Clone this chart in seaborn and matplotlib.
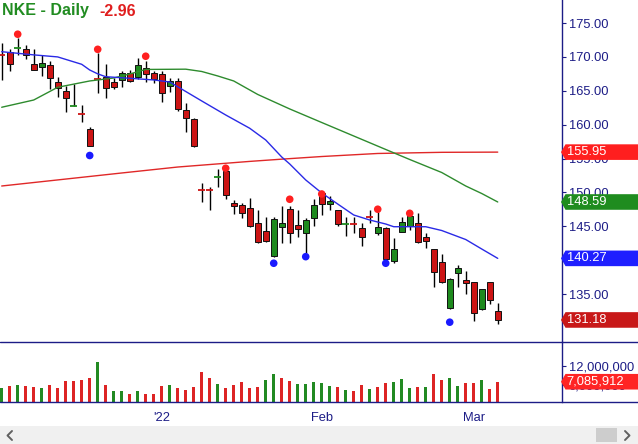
import numpy as np
import pandas as pd
import matplotlib
matplotlib.use("Agg")
import matplotlib.pyplot as plt
import seaborn as sns
from matplotlib.patches import Polygon, Rectangle
from matplotlib.lines import Line2D

# ---------------- data ----------------
title_text = "NKE - Daily"
change_text = "-2.96"

first_date = "2021-12-03"
last_axis_date = "2022-03-15"
market_holidays = ["2021-12-24", "2022-01-17", "2022-02-21"]

opens = [170.32, 170.77, 171.25, 171.12, 168.92, 168.46, 168.79, 166.30, 165.01, 162.72,
         161.58, 159.34, 166.87, 167.08, 166.27, 166.64, 167.68, 167.04, 168.33, 167.59,
         167.44, 165.75, 166.45, 162.10, 160.85, 150.48, 150.48, 152.20, 153.15, 148.49,
         148.15, 147.66, 145.45, 144.31, 140.67, 144.94, 147.51, 145.20, 144.06, 146.18,
         149.91, 148.25, 147.40, 145.31, 145.37, 144.71, 146.40, 143.97, 144.71, 139.92,
         144.12, 145.05, 145.45, 143.38, 141.60, 139.69, 132.91, 138.06, 137.07, 136.74,
         132.84, 136.74, 132.50]
highs = [172.00, 171.12, 172.85, 171.75, 171.12, 170.33, 169.41, 167.08, 165.71, 165.99,
         162.83, 159.71, 170.58, 168.90, 166.82, 167.92, 168.07, 169.85, 169.41, 167.92,
         167.92, 166.85, 166.85, 163.25, 161.04, 151.34, 150.73, 153.40, 153.52, 148.89,
         148.49, 149.14, 147.40, 146.42, 146.42, 147.99, 147.99, 147.40, 146.18, 148.99,
         150.11, 149.46, 147.40, 146.42, 146.42, 145.53, 147.40, 147.11, 144.95, 143.23,
         146.42, 146.52, 146.92, 143.96, 141.61, 140.87, 137.32, 139.29, 138.40, 136.76,
         135.71, 136.76, 133.64]
lows = [166.59, 167.99, 170.29, 169.73, 168.06, 167.23, 165.24, 164.14, 161.80, 162.70,
        160.45, 156.91, 164.64, 164.01, 165.22, 165.52, 166.35, 166.77, 166.35, 166.10,
        163.28, 164.86, 162.03, 158.99, 156.76, 148.63, 147.46, 150.76, 149.00, 146.78,
        146.29, 144.95, 142.50, 142.73, 140.52, 142.50, 142.58, 143.46, 141.02, 145.05,
        146.67, 147.40, 145.05, 143.61, 143.97, 142.15, 145.53, 143.72, 140.03, 139.63,
        144.12, 144.45, 142.58, 141.75, 136.09, 136.60, 132.75, 136.09, 135.01, 131.07,
        132.65, 133.50, 130.60]
closes = [170.26, 168.92, 171.30, 170.29, 168.06, 169.12, 166.82, 165.37, 163.87, 162.78,
          161.52, 156.91, 166.81, 165.37, 165.59, 167.59, 166.46, 168.81, 167.47, 166.71,
          164.64, 166.45, 162.28, 160.95, 156.91, 150.43, 150.43, 152.26, 149.56, 148.05,
          146.93, 145.09, 142.64, 142.88, 146.03, 145.45, 143.97, 144.56, 145.93, 148.14,
          148.25, 148.73, 145.34, 145.37, 145.31, 143.47, 146.35, 144.86, 140.13, 141.60,
          145.59, 146.51, 142.73, 142.88, 138.21, 136.75, 137.18, 138.80, 136.60, 132.17,
          135.70, 134.14, 131.18]
volumes = [5220000, 5840000, 6160000, 5840000, 5530000, 5220000, 6160000, 5220000, 7410000, 7410000,
           7720000, 8340000, 13250000, 6160000, 4280000, 4280000, 3340000, 4280000, 3340000, 3340000,
           5840000, 6160000, 5220000, 4590000, 5530000, 10220000, 8340000, 6470000, 5220000, 6160000,
           7090000, 5220000, 5530000, 7720000, 9590000, 8340000, 7410000, 6470000, 6470000, 7090000,
           6780000, 5840000, 5530000, 4590000, 4280000, 6160000, 4910000, 5530000, 6780000, 7090000,
           8030000, 5220000, 5530000, 5530000, 9590000, 7720000, 8340000, 5840000, 6780000, 6780000,
           7720000, 4910000, 7085912]
volume_up = [1, 0, 1, 0, 0, 1, 0, 0, 0, 0, 0, 0, 1, 0, 1, 1, 0, 1, 0, 0,
             0, 1, 0, 0, 0, 0, 0, 1, 0, 0, 0, 0, 0, 1, 1, 0, 0, 1, 1, 1,
             1, 1, 0, 1, 0, 0, 1, 0, 0, 1, 1, 1, 0, 1, 0, 0, 1, 1, 0, 0,
             1, 0, 0]

ma_short_idx = [0, 4, 7, 10, 11, 12, 13, 16, 19, 21, 22, 25, 28, 31, 33, 35, 36, 38, 40, 42,
                44, 46, 48, 49, 53, 55, 58, 60, 62]
ma_short_val = [170.77, 170.30, 170.00, 168.91, 168.07, 167.50, 167.08, 166.85, 166.60, 166.30,
                165.60, 163.50, 161.43, 159.47, 157.74, 155.23, 154.20, 151.84, 149.92, 148.29,
                146.67, 145.93, 145.34, 144.94, 144.94, 144.38, 143.05, 141.65, 140.27]
ma_mid_idx = [0, 4, 7, 11, 14, 16, 18, 23, 25, 27, 29, 32, 36, 40, 48, 51, 55, 58, 60, 62]
ma_mid_val = [162.57, 163.64, 165.52, 166.45, 166.89, 167.48, 168.15, 168.19, 167.85, 167.19,
              166.45, 164.46, 162.32, 160.32, 156.34, 154.86, 152.94, 150.95, 149.84, 148.59]
ma_long_idx = [0, 15, 22, 31, 35, 40, 47, 55, 62]
ma_long_val = [150.95, 152.87, 153.75, 154.58, 154.91, 155.30, 155.75, 155.92, 155.95]

swing_high_idx = [2, 12, 18, 28, 36, 40, 47, 51]
swing_high_val = [173.35, 171.12, 170.10, 153.57, 148.99, 149.77, 147.52, 146.92]
swing_low_idx = [11, 34, 38, 48, 56]
swing_low_val = [155.45, 139.55, 140.52, 139.55, 130.85]

price_ticks = [135, 140, 145, 150, 155, 160, 165, 170, 175]
volume_ticks = [6000000, 12000000]

# ---------------- style ----------------
sns.set_theme(style="white")
plt.rcParams['font.family'] = ['Liberation Sans', 'DejaVu Sans']

navy = "#1c1c86"
up_col = "#1e8a1e"
dn_col = "#cc1414"
vol_up_col = "#228a22"
vol_dn_col = "#dd2424"
blue_line = "#2a2ae6"
green_line = "#2e8b2e"
red_line = "#e02828"

W, H = 638, 444
fig = plt.figure(figsize=(W / 100, H / 100), dpi=100)
fig.patch.set_facecolor("white")


def fx(x):
    return x / W


def fy(y):
    return 1 - y / H


axis_right = 562.3
price_bot = 341.5
vol_bot = 401.5
ax = fig.add_axes([0, fy(price_bot), fx(axis_right), price_bot / H])
axv = fig.add_axes([0, fy(vol_bot), fx(axis_right), (vol_bot - price_bot) / H])

o = np.array(opens)
h = np.array(highs)
l = np.array(lows)
c = np.array(closes)
n = len(o)
xi = np.arange(n)

# ---------------- candles ----------------
cols = np.where(c >= o, up_col, dn_col)
ax.vlines(xi, l, h, color="black", lw=1.0, zorder=2)
lo = np.minimum(o, c)
bh = np.abs(c - o)
doji = bh < 0.1
ax.bar(xi[~doji], bh[~doji], bottom=lo[~doji], width=0.72, color=cols[~doji],
       edgecolor="#111111", linewidth=0.7, zorder=3)
ax.hlines(c[doji], xi[doji] - 0.42, xi[doji] + 0.42, colors=cols[doji], lw=1.3, zorder=3)

# moving averages
sns.lineplot(x=ma_long_idx, y=ma_long_val, ax=ax, color=red_line, linewidth=1.0,
             estimator=None, sort=False, zorder=4)
sns.lineplot(x=ma_mid_idx, y=ma_mid_val, ax=ax, color=green_line, linewidth=1.0,
             estimator=None, sort=False, zorder=4)
sns.lineplot(x=ma_short_idx, y=ma_short_val, ax=ax, color=blue_line, linewidth=1.0,
             estimator=None, sort=False, zorder=4)

# swing markers
sns.scatterplot(x=swing_high_idx, y=swing_high_val, ax=ax, color="#ff2020", s=30,
                edgecolor="none", zorder=5, legend=False)
sns.scatterplot(x=swing_low_idx, y=swing_low_val, ax=ax, color="#1a1aff", s=30,
                edgecolor="none", zorder=5, legend=False)

# ---------------- volume ----------------
vcols = [vol_up_col if u else vol_dn_col for u in volume_up]
axv.bar(xi, volumes, width=0.32, color=vcols, linewidth=0, zorder=2)

# ---------------- axes ----------------
xlim = (-0.2125, 70.07)
for a in (ax, axv):
    a.set_xlim(*xlim)
    a.set_facecolor("white")
    a.set_xlabel("")
    a.set_ylabel("")
    for s in ("top", "left", "bottom"):
        a.spines[s].set_visible(False)
    a.spines["right"].set_color(navy)
    a.spines["right"].set_linewidth(1.0)
    a.grid(False)

ax.set_ylim(128.0, 178.4)
axv.set_ylim(0.906e6, 19.66e6)

ax.yaxis.tick_right()
ax.set_yticks(price_ticks)
ax.set_yticklabels([f"{t:.2f}" for t in price_ticks])
ax.tick_params(axis="y", direction="out", length=3, width=0.8, colors=navy,
               labelsize=9.3, pad=1.5)
ax.set_xticks([])

axv.yaxis.tick_right()
axv.set_yticks(volume_ticks)
axv.set_yticklabels([f"{t:,.0f}" for t in volume_ticks])
axv.tick_params(axis="y", direction="out", length=3, width=0.8, colors=navy,
                labelsize=9.3, pad=1.5)

dates = pd.bdate_range(first_date, last_axis_date, freq="C", holidays=market_holidays)
weeks = dates.to_period("W")
new_week = np.r_[False, np.asarray(weeks[1:] != weeks[:-1])]
new_month = np.r_[False, np.asarray(dates.month[1:] != dates.month[:-1])]
pos = np.arange(len(dates))
major_pos = pos[new_month]
major_lab = [("'" + d.strftime("%y")) if d.month == 1 else d.strftime("%b") for d in dates[new_month]]
minor_pos = pos[new_week & ~new_month]
axv.set_xticks(major_pos)
axv.set_xticklabels(major_lab)
axv.set_xticks(minor_pos, minor=True)
axv.tick_params(axis="x", which="major", direction="out", length=5.2, width=0.8,
                color=navy, labelcolor=navy, labelsize=9.3, pad=2)
axv.tick_params(axis="x", which="minor", direction="out", length=2.9, width=0.8, color=navy)

# full-width separators
for yy in (price_bot, vol_bot):
    fig.add_artist(Line2D([0, 1], [fy(yy), fy(yy)], transform=fig.transFigure,
                          color=navy, lw=1.0, zorder=6))

# ---------------- value tags ----------------
def value_tag(axis, value, text, color):
    disp_y = axis.transData.transform((0, value))[1]
    yc = H - disp_y
    hh = 7.8
    pts = [(561.0, yc), (565.5, yc - hh), (W, yc - hh), (W, yc + hh), (565.5, yc + hh)]
    fig.add_artist(Polygon([(fx(px), fy(py)) for px, py in pts], closed=True,
                           transform=fig.transFigure, facecolor=color, edgecolor="none",
                           zorder=10))
    fig.text(fx(566.5), fy(yc), text, color="white", fontsize=9.3, va="center",
             ha="left", zorder=11)


value_tag(ax, ma_long_val[-1], f"{ma_long_val[-1]:.2f}", "#ff1f1f")
value_tag(ax, ma_mid_val[-1], f"{ma_mid_val[-1]:.2f}", "#1f8c1f")
value_tag(ax, ma_short_val[-1], f"{ma_short_val[-1]:.2f}", "#1f1fff")
value_tag(ax, closes[-1], f"{closes[-1]:.2f}", "#c81818")
value_tag(axv, volumes[-1], f"{volumes[-1]:,.0f}", "#ff2424")

# ---------------- title ----------------
fig.text(fx(2), fy(11), title_text, color="#218c21", fontsize=11.5, fontweight="bold",
         va="center", ha="left")
fig.text(fx(99), fy(11), change_text, color="#e01e1e", fontsize=11.5, fontweight="bold",
         va="center", ha="left")

# ---------------- scrollbar ----------------
fig.add_artist(Rectangle((0, fy(H)), 1, (H - 426) / H, transform=fig.transFigure,
                         facecolor="#f0f0f0", edgecolor="none", zorder=1))
fig.add_artist(Rectangle((fx(596), fy(442)), fx(617) - fx(596), (442 - 428) / H,
                         transform=fig.transFigure, facecolor="#cdcdcd", edgecolor="none",
                         zorder=2))
fig.add_artist(Line2D([fx(12), fx(7.5), fx(12)], [fy(431), fy(435.5), fy(440)],
                      transform=fig.transFigure, color="#606060", lw=1.4, zorder=3))
fig.add_artist(Line2D([fx(625), fx(629.5), fx(625)], [fy(431), fy(435.5), fy(440)],
                      transform=fig.transFigure, color="#606060", lw=1.4, zorder=3))

fig.savefig("out.png", dpi=100, facecolor="white")
